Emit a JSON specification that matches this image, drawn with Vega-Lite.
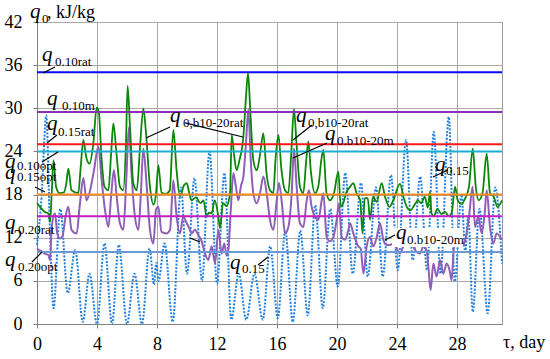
{
"$schema": "https://vega.github.io/schema/vega-lite/v6.json",
"width": 465, "height": 302,
"autosize": {"type": "none"},
"padding": {"left": 37, "top": 22, "right": 48, "bottom": 35},
"background": "white",
"config": {"view": {"stroke": "#999999", "strokeWidth": 1}, "font": "Liberation Serif"},
"datasets": {
"G": [{"d":0,"v":16.8},{"d":0.2,"v":16.3},{"d":0.5,"v":15.6},{"d":0.75,"v":15.4},{"d":0.87,"v":14.2},{"d":0.98,"v":18.2},{"d":1.1,"v":22.8},{"d":1.27,"v":19.1},{"d":1.5,"v":18.2},{"d":1.8,"v":18.3},{"d":1.95,"v":19.5},{"d":2.09,"v":21.6},{"d":2.3,"v":18.6},{"d":2.75,"v":18.2},{"d":2.92,"v":22},{"d":3.09,"v":25.6},{"d":3.27,"v":23.3},{"d":3.5,"v":22.3},{"d":3.75,"v":25},{"d":3.98,"v":30.1},{"d":4.12,"v":29.5},{"d":4.31,"v":22.8},{"d":4.5,"v":19.1},{"d":4.76,"v":18.6},{"d":4.95,"v":24},{"d":5.09,"v":27.9},{"d":5.3,"v":23.7},{"d":5.53,"v":19.1},{"d":5.75,"v":18.6},{"d":5.93,"v":25},{"d":6.04,"v":33.1},{"d":6.2,"v":27.4},{"d":6.42,"v":19.6},{"d":6.65,"v":18.6},{"d":6.88,"v":25},{"d":7.09,"v":30},{"d":7.25,"v":27},{"d":7.53,"v":19.1},{"d":7.76,"v":16.6},{"d":7.93,"v":18},{"d":8.09,"v":22.1},{"d":8.3,"v":18.3},{"d":8.6,"v":18.1},{"d":8.85,"v":18.6},{"d":9.09,"v":27},{"d":9.3,"v":21.5},{"d":9.53,"v":17.8},{"d":9.8,"v":19.3},{"d":9.98,"v":19.6},{"d":10.15,"v":18.2},{"d":10.3,"v":17.2},{"d":10.6,"v":17.6},{"d":10.9,"v":16.8},{"d":11.1,"v":17.2},{"d":11.31,"v":14.9},{"d":11.45,"v":15.5},{"d":11.64,"v":15.4},{"d":11.85,"v":17.2},{"d":12.09,"v":14.9},{"d":12.2,"v":13.3},{"d":12.4,"v":16.8},{"d":12.64,"v":16.4},{"d":12.87,"v":18.2},{"d":12.98,"v":26.3},{"d":13.15,"v":23.3},{"d":13.31,"v":21.4},{"d":13.5,"v":22.8},{"d":13.76,"v":26.1},{"d":13.92,"v":31.2},{"d":14.07,"v":34.9},{"d":14.2,"v":30.5},{"d":14.42,"v":22.8},{"d":14.65,"v":21.4},{"d":14.85,"v":23.3},{"d":15.09,"v":26.5},{"d":15.3,"v":21},{"d":15.53,"v":18.6},{"d":15.75,"v":18.2},{"d":15.9,"v":22.8},{"d":16.09,"v":26.3},{"d":16.3,"v":21.4},{"d":16.53,"v":18.6},{"d":16.75,"v":18.2},{"d":16.95,"v":23.7},{"d":17.13,"v":29.9},{"d":17.3,"v":25.1},{"d":17.53,"v":19.1},{"d":17.75,"v":18.2},{"d":17.95,"v":22.8},{"d":18.09,"v":25.4},{"d":18.25,"v":21.4},{"d":18.53,"v":18.2},{"d":18.75,"v":19.1},{"d":18.98,"v":23.2},{"d":19.09,"v":24.2},{"d":19.3,"v":18.2},{"d":19.53,"v":17.2},{"d":19.8,"v":18.2},{"d":20.09,"v":21.2},{"d":20.25,"v":16.3},{"d":20.45,"v":17},{"d":20.6,"v":18.2},{"d":20.85,"v":19},{"d":21.09,"v":19.6},{"d":21.3,"v":18.2},{"d":21.55,"v":17.2},{"d":21.7,"v":12.6},{"d":21.85,"v":17.5},{"d":22.05,"v":17.5},{"d":22.2,"v":14.5},{"d":22.4,"v":17.7},{"d":22.64,"v":17},{"d":22.98,"v":19.6},{"d":23.2,"v":17.7},{"d":23.5,"v":16.3},{"d":23.75,"v":17.2},{"d":24.2,"v":19.5},{"d":24.45,"v":17.5},{"d":24.65,"v":16.3},{"d":24.9,"v":15.8},{"d":25.15,"v":16.5},{"d":25.4,"v":17.2},{"d":25.6,"v":16.8},{"d":25.85,"v":17.7},{"d":26.05,"v":16.2},{"d":26.2,"v":18.4},{"d":26.3,"v":15.4},{"d":26.45,"v":15},{"d":26.7,"v":16},{"d":26.95,"v":15.3},{"d":27.2,"v":15.6},{"d":27.45,"v":15},{"d":27.65,"v":15.5},{"d":27.87,"v":19.1},{"d":28.05,"v":17.2},{"d":28.3,"v":16.7},{"d":28.55,"v":17.5},{"d":28.8,"v":19.1},{"d":29.05,"v":24.4},{"d":29.25,"v":19.1},{"d":29.45,"v":17.2},{"d":29.7,"v":18.2},{"d":29.98,"v":23.7},{"d":30.2,"v":18.2},{"d":30.45,"v":17.7},{"d":30.7,"v":16.3},{"d":31,"v":17.2}],
"P": [{"d":0,"v":10.5},{"d":0.3,"v":10.1},{"d":0.5,"v":9.8},{"d":0.75,"v":9.6},{"d":0.87,"v":8.9},{"d":0.98,"v":13.5},{"d":1.2,"v":15.4},{"d":1.35,"v":12.6},{"d":1.53,"v":11.9},{"d":1.7,"v":12.2},{"d":1.9,"v":14.9},{"d":2.09,"v":16.3},{"d":2.3,"v":13.1},{"d":2.64,"v":12.6},{"d":2.85,"v":16.5},{"d":3.09,"v":20.3},{"d":3.3,"v":17.2},{"d":3.53,"v":18.5},{"d":3.8,"v":21.4},{"d":4.09,"v":24.7},{"d":4.31,"v":20},{"d":4.53,"v":15.9},{"d":4.76,"v":13.5},{"d":4.95,"v":18},{"d":5.13,"v":21.4},{"d":5.3,"v":18},{"d":5.53,"v":14},{"d":5.76,"v":13.1},{"d":5.95,"v":20},{"d":6.13,"v":27.4},{"d":6.3,"v":21},{"d":6.53,"v":14.9},{"d":6.76,"v":13.1},{"d":6.92,"v":18},{"d":7.09,"v":24.4},{"d":7.3,"v":19.6},{"d":7.53,"v":13.1},{"d":7.76,"v":11.2},{"d":7.93,"v":15.9},{"d":8.09,"v":16.3},{"d":8.3,"v":12.8},{"d":8.64,"v":12.6},{"d":8.87,"v":13.1},{"d":9.09,"v":20},{"d":9.31,"v":14.9},{"d":9.53,"v":12.6},{"d":9.75,"v":14.9},{"d":9.98,"v":14},{"d":10.2,"v":13.1},{"d":10.3,"v":12.6},{"d":10.53,"v":13.1},{"d":10.75,"v":12.4},{"d":10.98,"v":11.5},{"d":11.2,"v":9.8},{"d":11.42,"v":8.9},{"d":11.64,"v":10.8},{"d":11.87,"v":8.4},{"d":12.09,"v":13.1},{"d":12.31,"v":9.8},{"d":12.49,"v":11.2},{"d":12.64,"v":9.5},{"d":12.76,"v":10.3},{"d":12.92,"v":15.9},{"d":13.09,"v":21},{"d":13.25,"v":19.2},{"d":13.42,"v":17.2},{"d":13.6,"v":19.2},{"d":13.76,"v":20.5},{"d":13.93,"v":25.1},{"d":14.09,"v":29.8},{"d":14.25,"v":22.8},{"d":14.42,"v":18.2},{"d":14.65,"v":16.8},{"d":14.87,"v":18.2},{"d":15.09,"v":20.5},{"d":15.31,"v":18.2},{"d":15.53,"v":14.5},{"d":15.76,"v":13.1},{"d":15.98,"v":17.2},{"d":16.13,"v":19.6},{"d":16.35,"v":16.3},{"d":16.53,"v":12.6},{"d":16.76,"v":13.5},{"d":16.98,"v":18.2},{"d":17.13,"v":24.4},{"d":17.31,"v":19.1},{"d":17.53,"v":14},{"d":17.76,"v":13.5},{"d":17.98,"v":17.2},{"d":18.13,"v":18.6},{"d":18.31,"v":16.3},{"d":18.53,"v":14.9},{"d":18.76,"v":14.5},{"d":18.98,"v":17.2},{"d":19.09,"v":18.2},{"d":19.31,"v":12.1},{"d":19.53,"v":11.5},{"d":19.76,"v":12.1},{"d":19.98,"v":14.5},{"d":20.13,"v":16.8},{"d":20.31,"v":12.1},{"d":20.53,"v":11.7},{"d":20.75,"v":13},{"d":20.87,"v":14},{"d":21.09,"v":12.6},{"d":21.42,"v":10.8},{"d":21.58,"v":10.5},{"d":21.76,"v":7},{"d":21.98,"v":10.8},{"d":22.2,"v":12.1},{"d":22.42,"v":10.8},{"d":22.64,"v":12},{"d":22.87,"v":14},{"d":23.09,"v":11.7},{"d":23.31,"v":11},{"d":23.53,"v":11},{"d":23.76,"v":11.2},{"d":24.2,"v":9.8},{"d":24.42,"v":10.8},{"d":24.64,"v":11.2},{"d":24.87,"v":11.7},{"d":25.09,"v":10.8},{"d":25.31,"v":10},{"d":25.53,"v":9.8},{"d":25.76,"v":10.8},{"d":25.98,"v":10.2},{"d":26.09,"v":8},{"d":26.24,"v":4.7},{"d":26.42,"v":8.4},{"d":26.64,"v":6.6},{"d":26.87,"v":8.9},{"d":27.09,"v":7},{"d":27.31,"v":8.4},{"d":27.5,"v":7.5},{"d":27.64,"v":6.1},{"d":27.8,"v":10.8},{"d":28.09,"v":12.6},{"d":28.31,"v":10.8},{"d":28.55,"v":11.7},{"d":28.8,"v":14.9},{"d":29.04,"v":19.1},{"d":29.2,"v":13.5},{"d":29.42,"v":14.9},{"d":29.65,"v":12.6},{"d":29.85,"v":15.5},{"d":29.98,"v":18.6},{"d":30.2,"v":13.5},{"d":30.42,"v":11.2},{"d":30.64,"v":12.6},{"d":31,"v":11.7}],
"B": [{"d":0,"v":11},{"d":0.3,"v":17.5},{"d":0.62,"v":29},{"d":0.85,"v":14},{"d":1.1,"v":2.2},{"d":1.55,"v":16},{"d":2.05,"v":4.3},{"d":2.55,"v":10.3},{"d":3.05,"v":0.3},{"d":3.5,"v":7},{"d":4,"v":0},{"d":4.5,"v":11.2},{"d":5,"v":0},{"d":5.45,"v":11},{"d":6,"v":0},{"d":6.5,"v":7},{"d":7,"v":0},{"d":7.5,"v":10.5},{"d":7.8,"v":5.5},{"d":7.95,"v":8.5},{"d":8.1,"v":6},{"d":8.5,"v":11.2},{"d":9.05,"v":0.3},{"d":9.6,"v":19},{"d":10,"v":7},{"d":10.5,"v":20.3},{"d":11,"v":6},{"d":11.5,"v":24},{"d":12,"v":5.6},{"d":12.5,"v":21},{"d":12.95,"v":0.6},{"d":13.45,"v":7},{"d":13.95,"v":0.6},{"d":14.5,"v":7},{"d":15.05,"v":0.6},{"d":15.55,"v":10.8},{"d":16.05,"v":0.8},{"d":16.55,"v":13},{"d":17.05,"v":0.3},{"d":17.55,"v":13},{"d":18.05,"v":1.2},{"d":18.55,"v":16.5},{"d":19.05,"v":2.2},{"d":19.55,"v":16},{"d":20.05,"v":5.2},{"d":20.55,"v":21},{"d":21.05,"v":7},{"d":21.6,"v":19.6},{"d":22.05,"v":6.6},{"d":22.6,"v":19},{"d":23.05,"v":6.6},{"d":23.6,"v":20.7},{"d":24.05,"v":7.5},{"d":24.6,"v":25.6},{"d":25.05,"v":8.9},{"d":25.55,"v":20.5},{"d":26,"v":7.5},{"d":26.45,"v":26.7},{"d":26.9,"v":7},{"d":27.45,"v":28.8},{"d":27.85,"v":5.9},{"d":28.3,"v":18},{"d":28.55,"v":10},{"d":28.75,"v":15},{"d":29.05,"v":1.7},{"d":29.5,"v":16},{"d":30.05,"v":1.5},{"d":30.55,"v":19},{"d":31,"v":8.4}],
"refs": [{"name":"q0.10rat","v":35},{"name":"q0.10m","v":29.5},{"name":"q0.15rat","v":25},{"name":"q0.10opt","v":24},{"name":"q0.15opt","v":18},{"name":"q0.20rat","v":15},{"name":"q0.20opt","v":10}],
"qs": [{"t":"q","d":0.333,"v":36.58},{"t":"q","d":0.667,"v":30.46},{"t":"q","d":0.667,"v":26.98},{"t":"q","d":-2.133,"v":21.7},{"t":"q","d":-2.133,"v":20.17},{"t":"q","d":-2.133,"v":13.21},{"t":"q","d":-2.133,"v":8.07},{"t":"q","d":8.867,"v":28.09},{"t":"q","d":17.267,"v":28.09},{"t":"q","d":19.2,"v":25.59},{"t":"q","d":26.533,"v":21.28},{"t":"q","d":23.93,"v":11.82},{"t":"q","d":12.867,"v":7.65},{"t":"q","d":-0.467,"v":42.55}],
"subs": [{"t":"0.10rat","d":1.2,"v":35.88},{"t":"0.10m","d":1.667,"v":29.76},{"t":"0.15rat","d":1.4,"v":26.15},{"t":"0.10opt","d":-1.333,"v":21.42},{"t":"0.15opt","d":-1.333,"v":19.89},{"t":"0.20rat","d":-1.267,"v":12.52},{"t":"0.20opt","d":-1.267,"v":7.37},{"t":"0,b10-20rat","d":9.733,"v":27.4},{"t":"0,b10-20rat","d":18.067,"v":27.4},{"t":"0.b10-20m","d":20.0,"v":24.9},{"t":"0.15","d":27.267,"v":20.72},{"t":"0.b10-20m","d":24.67,"v":11.13},{"t":"0.15","d":13.667,"v":7.09},{"t":"0","d":0.333,"v":41.86}],
"titles": [{"t":", kJ/kg","d":0.667,"v":42.55},{"t":"τ, day","d":31.07,"v":-3.34}],
"leaders": [{"d":0.4,"v":34.91,"d2":1.2,"v2":35.74},{"d":0.667,"v":25.17,"d2":1.333,"v2":26.29},{"d":0.333,"v":22.53,"d2":1.4,"v2":23.92},{"d":-0.133,"v":19.05,"d2":0.533,"v2":18.36},{"d":-0.333,"v":8.62,"d2":0.333,"v2":10.01},{"d":7.267,"v":25.87,"d2":8.867,"v2":27.4},{"d":9.867,"v":27.96,"d2":13.733,"v2":26.01},{"d":18.333,"v":27.68,"d2":17.067,"v2":25.59},{"d":19.333,"v":25.17,"d2":17.067,"v2":23.09},{"d":26.4,"v":20.44,"d2":27.4,"v2":21.42},{"d":23.2,"v":11.68,"d2":23.87,"v2":12.38},{"d":14.733,"v":8.21,"d2":15.4,"v2":9.32},{"d":10.2,"v":11.96,"d2":10.867,"v2":11.4}],
"box": [{"d":23.67,"v":13.35,"d2":28.4,"v2":10.7}]
},
"layer": [
{"data": {"name": "B"}, "mark": {"type": "line", "color": "#1f80e0", "strokeWidth": 2, "strokeDash": [2, 1.5], "interpolate": "monotone"},
 "encoding": {
  "x": {"field": "d", "type": "quantitative", "title": null, "scale": {"domain": [0, 31], "nice": false, "zero": false},
   "axis": {"title": null, "values": [0,1,2,3,4,5,6,7,8,9,10,11,12,13,14,15,16,17,18,19,20,21,22,23,24,25,26,27,28,29,30,31],
    "grid": true, "gridColor": "#a8a8a8", "gridWidth": 1,
    "gridOpacity": {"condition": {"test": "datum.value % 4 === 0", "value": 1}, "value": 0},
    "labelExpr": "datum.value % 4 === 0 ? datum.label : ''",
    "tickSize": 4, "tickColor": "#808080", "domainColor": "#808080",
    "labelFont": "Liberation Serif", "labelFontSize": 18, "labelColor": "black", "labelPadding": 7, "labelFlush": false, "labelOverlap": false}},
  "y": {"field": "v", "type": "quantitative", "title": null, "scale": {"domain": [0, 42], "nice": false, "zero": false},
   "axis": {"title": null, "values": [0,3,6,9,12,15,18,21,24,27,30,33,36,39,42],
    "grid": true, "gridColor": "#a8a8a8", "gridWidth": 1,
    "gridOpacity": {"condition": {"test": "datum.value % 6 === 0", "value": 1}, "value": 0},
    "labelExpr": "datum.value % 6 === 0 ? datum.label : ''",
    "tickSize": 4, "tickColor": "#808080", "domainColor": "#808080",
    "labelFont": "Liberation Serif", "labelFontSize": 18, "labelColor": "black", "labelPadding": 11, "labelOverlap": false}}
 }},
{"data": {"name": "P"}, "mark": {"type": "line", "color": "#8f5fb8", "strokeWidth": 2, "interpolate": "monotone"},
 "encoding": {"x": {"field": "d", "type": "quantitative", "title": null}, "y": {"field": "v", "type": "quantitative", "title": null}}},
{"data": {"name": "G"}, "mark": {"type": "line", "color": "#0a860a", "strokeWidth": 1.8, "interpolate": "monotone"},
 "encoding": {"x": {"field": "d", "type": "quantitative", "title": null}, "y": {"field": "v", "type": "quantitative", "title": null}}},
{"data": {"name": "refs"}, "mark": {"type": "rule", "strokeWidth": 2},
 "encoding": {"y": {"field": "v", "type": "quantitative", "title": null},
  "color": {"field": "name", "type": "nominal", "legend": null,
   "scale": {"domain": ["q0.10rat","q0.10m","q0.15rat","q0.10opt","q0.15opt","q0.20rat","q0.20opt"],
    "range": ["#0a0aff","#8a30b8","#ff1a1a","#1aaed2","#ff8a1e","#c21ec2","#6a9ad6"]}}}},
{"data": {"name": "box"}, "mark": {"type": "rect", "color": "white"},
 "encoding": {"x": {"field": "d", "type": "quantitative", "title": null}, "x2": {"field": "d2"}, "y": {"field": "v", "type": "quantitative", "title": null}, "y2": {"field": "v2"}}},
{"data": {"name": "leaders"}, "mark": {"type": "rule", "color": "black", "strokeWidth": 1.2},
 "encoding": {"x": {"field": "d", "type": "quantitative", "title": null}, "x2": {"field": "d2"}, "y": {"field": "v", "type": "quantitative", "title": null}, "y2": {"field": "v2"}}},
{"data": {"name": "qs"}, "mark": {"type": "text", "font": "Liberation Serif", "fontStyle": "italic", "fontSize": 21, "align": "left", "baseline": "alphabetic", "color": "black"},
 "encoding": {"x": {"field": "d", "type": "quantitative", "title": null}, "y": {"field": "v", "type": "quantitative", "title": null}, "text": {"field": "t"}}},
{"data": {"name": "subs"}, "mark": {"type": "text", "font": "Liberation Serif", "fontSize": 13, "align": "left", "baseline": "alphabetic", "color": "black"},
 "encoding": {"x": {"field": "d", "type": "quantitative", "title": null}, "y": {"field": "v", "type": "quantitative", "title": null}, "text": {"field": "t"}}},
{"data": {"name": "titles"}, "mark": {"type": "text", "font": "Liberation Serif", "fontSize": 18, "align": "left", "baseline": "alphabetic", "color": "black"},
 "encoding": {"x": {"field": "d", "type": "quantitative", "title": null}, "y": {"field": "v", "type": "quantitative", "title": null}, "text": {"field": "t"}}}
]
}
